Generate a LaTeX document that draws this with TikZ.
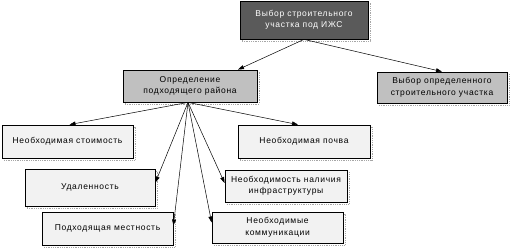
\documentclass[tikz,border=0pt]{standalone}
\usepackage{fontspec}
\setmainfont{Liberation Sans}[LetterSpace=8]
\usepackage{tikz}
\usetikzlibrary{arrows.meta, calc, positioning, shadows}
\usepackage{xcolor}

\definecolor{boxdark}{HTML}{5A5A5A}
\definecolor{boxmid}{HTML}{C0C0C0}
\definecolor{boxlight}{HTML}{F2F2F2}

\tikzset{
  card/.style={draw=black, line width=0.8pt, align=center,
    font=\fontsize{8.5}{11.5}\selectfont,
    general shadow={draw=gray!70, densely dotted, line width=0.8pt,
      shadow xshift=2pt, shadow yshift=-2pt}},
  goalbox/.style={card, fill=boxdark, text=white},
  stagebox/.style={card, fill=boxmid},
  factorbox/.style={card, fill=boxlight},
  arr/.style={-{Triangle[length=6pt, width=4pt]}, line width=0.5pt}
}

\begin{document}
\begin{tikzpicture}[x=1pt, y=-1pt]
\useasboundingbox (0,0) rectangle (511,248);

% Goal
\node[goalbox, minimum width=128pt, minimum height=38pt] (goal) at (304,20)
  {Выбор строительного\\участка под ИЖС};

% Stages
\node[stagebox, minimum width=134pt, minimum height=32pt] (area) at (190,86)
  {Определение\\подходящего района};
\node[stagebox, minimum width=130pt, minimum height=31pt] (plot) at (442,87.5)
  {Выбор определенного\\строительного участка};

% Factors
\node[factorbox, minimum width=131pt, minimum height=33pt] (cost) at (67.5,141.5)
  {Необходимая стоимость};
\node[factorbox, minimum width=130pt, minimum height=37pt] (dist) at (90,187.5)
  {Удаленность};
\node[factorbox, minimum width=131pt, minimum height=33pt] (terr) at (107.5,228.5)
  {Подходящая местность};
\node[factorbox, minimum width=132pt, minimum height=33pt] (soil) at (304,141.5)
  {Необходимая почва};
\node[factorbox, minimum width=122pt, minimum height=32pt] (infra) at (286,186)
  {Необходимость наличия\\инфраструктуры};
\node[factorbox, minimum width=131pt, minimum height=31pt] (comm) at (277.5,227.5)
  {Необходимые\\коммуникации};

% Connectors
\draw[arr] (goal.south) -- ([xshift=48pt]area.north);
\draw[arr] (goal.south) -- (plot.north);

\coordinate (fan) at ([xshift=-2pt]area.south);
\draw[arr] (fan) -- ([xshift=2pt]cost.north);
\draw[arr] (fan) -- ([yshift=5pt]dist.east);
\draw[arr] (fan) -- ([yshift=3pt]terr.east);
\draw[arr] (fan) -- ([xshift=-6pt]soil.north);
\draw[arr] (fan) -- ([yshift=3pt]infra.west);
\draw[arr] (fan) -- ([yshift=5pt]comm.west);
\end{tikzpicture}
\end{document}
